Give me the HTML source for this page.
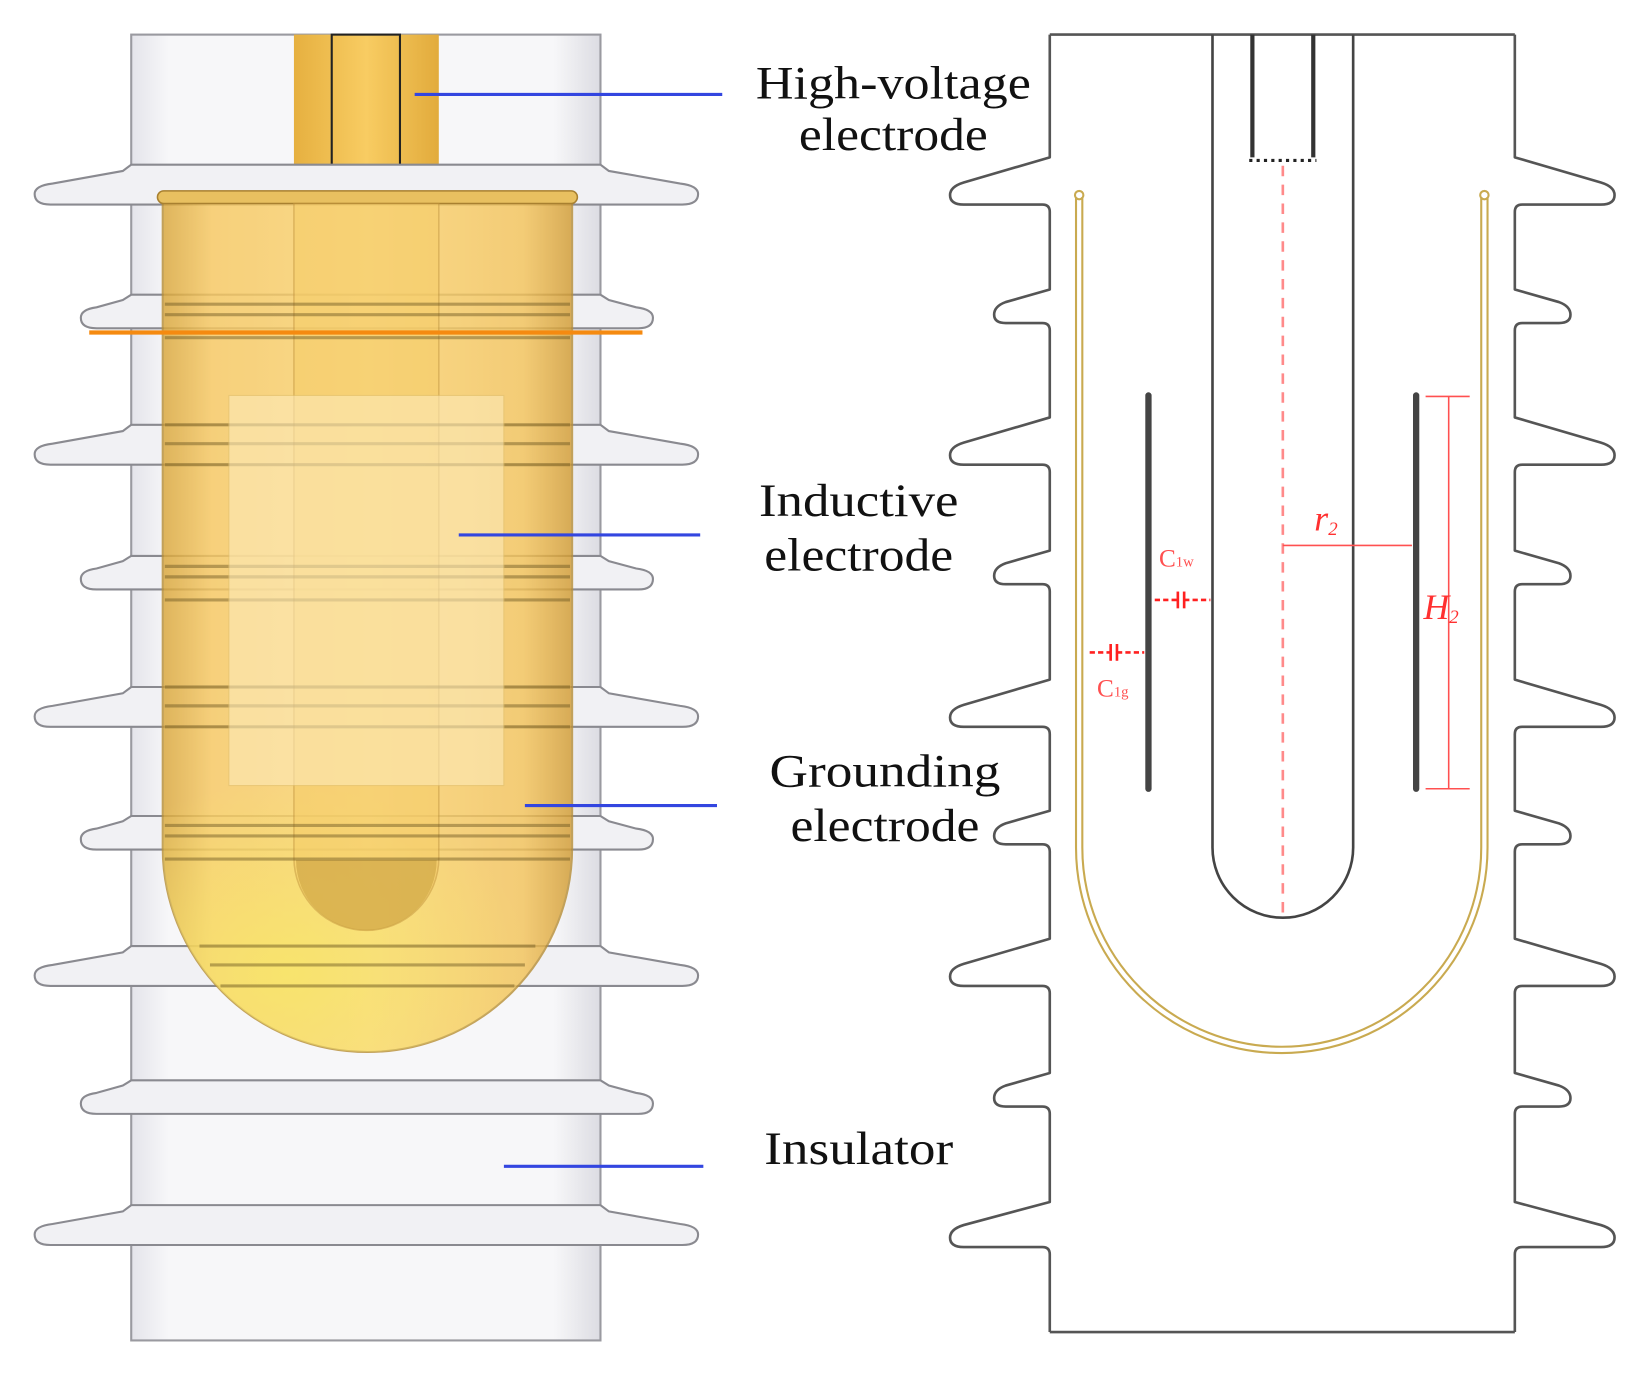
<!DOCTYPE html>
<html><head><meta charset="utf-8"><style>
html,body{margin:0;padding:0;background:#fff;}
svg{display:block;}
text{font-family:"Liberation Serif",serif;}
</style></head><body>
<svg width="1645" height="1374" viewBox="0 0 1567 1310" preserveAspectRatio="none" xmlns="http://www.w3.org/2000/svg">
<defs>
<linearGradient id="core" x1="0" x2="1" y1="0" y2="0">
<stop offset="0" stop-color="#e4e4ea"/><stop offset="0.08" stop-color="#f7f7f9"/><stop offset="0.9" stop-color="#f7f7f9"/><stop offset="1" stop-color="#dcdce2"/></linearGradient>
<linearGradient id="cup" x1="0" x2="1" y1="0" y2="0">
<stop offset="0" stop-color="#d9a63a"/><stop offset="0.12" stop-color="#f7c860"/><stop offset="0.5" stop-color="#fbd470"/><stop offset="0.88" stop-color="#f3c35a"/><stop offset="1" stop-color="#d29c34"/></linearGradient>
<radialGradient id="cupb" cx="0.3" cy="0.75" r="0.6">
<stop offset="0" stop-color="#f8e868"/><stop offset="1" stop-color="#f8e868" stop-opacity="0"/></radialGradient>
<linearGradient id="rod" x1="0" x2="1"><stop offset="0" stop-color="#e6b040"/><stop offset="0.5" stop-color="#f8cc62"/><stop offset="1" stop-color="#e2ab3c"/></linearGradient>
<path id="bshed" d="M125,-28 L572,-28 L580,-22 L648,-10 Q665,-8 665,0 Q665,10 650,10 L48,10 Q33,10 33,0 Q33,-8 50,-10 L117,-22 Z" fill="#f1f1f4" stroke="#8a8a90" stroke-width="2"/>
<path id="sshed" d="M125,-22 L572,-22 L580,-17 L606,-10 Q622,-8 622,0 Q622,10 608,10 L92,10 Q77,10 77,0 Q77,-8 92,-10 L117,-17 Z" fill="#f1f1f4" stroke="#8a8a90" stroke-width="2"/>
</defs>

<rect x="125" y="33" width="447" height="1245" fill="url(#core)" stroke="#9a9aa0" stroke-width="2"/>
<line x1="125" y1="160" x2="572" y2="160" stroke="#aaa" stroke-width="2"/>
<rect x="280" y="33" width="138" height="155" fill="url(#rod)"/>
<rect x="316" y="33" width="65" height="126" fill="none" stroke="#222" stroke-width="2"/>
<line x1="316" y1="159" x2="381" y2="159" stroke="#111" stroke-width="3" stroke-dasharray="4 4"/>
<use href="#bshed" y="185"/>
<use href="#sshed" y="303"/>
<use href="#bshed" y="433"/>
<use href="#sshed" y="552"/>
<use href="#bshed" y="683"/>
<use href="#sshed" y="800"/>
<use href="#bshed" y="930"/>
<use href="#sshed" y="1052"/>
<use href="#bshed" y="1177"/>
<path d="M155,188 L545,188 L545,808 A195,195 0 0 1 155,808 Z" fill="url(#cup)" opacity="0.82" stroke="#b8903a" stroke-width="2"/>
<path d="M155,700 L545,700 L545,808 A195,195 0 0 1 155,808 Z" fill="url(#cupb)" opacity="0.8"/>
<rect x="150" y="182" width="400" height="12" rx="6" fill="#e8c060" stroke="#a88030" stroke-width="1.5"/>
<path d="M280,194 L418,194 L418,818 A69,69 0 0 1 280,818 Z" fill="#f6cc66" opacity="0.55" stroke="#c89a40" stroke-width="1.5"/>
<path d="M282,820 A67,67 0 0 0 416,820 Z" fill="#c9a040" opacity="0.6"/>
<g stroke="#6a5520" stroke-width="3" opacity="0.45">
<line x1="157" y1="290" x2="543" y2="290"/><line x1="157" y1="300" x2="543" y2="300"/><line x1="157" y1="322" x2="543" y2="322"/>
<line x1="157" y1="405" x2="543" y2="405"/><line x1="157" y1="423" x2="543" y2="423"/><line x1="157" y1="443" x2="543" y2="443"/>
<line x1="157" y1="540" x2="543" y2="540"/><line x1="157" y1="550" x2="543" y2="550"/><line x1="157" y1="572" x2="543" y2="572"/>
<line x1="157" y1="655" x2="543" y2="655"/><line x1="157" y1="673" x2="543" y2="673"/><line x1="157" y1="693" x2="543" y2="693"/>
<line x1="157" y1="787" x2="543" y2="787"/><line x1="157" y1="797" x2="543" y2="797"/><line x1="157" y1="819" x2="543" y2="819"/>
<line x1="190" y1="902" x2="510" y2="902"/><line x1="200" y1="920" x2="500" y2="920"/><line x1="210" y1="940" x2="490" y2="940"/>
</g>
<rect x="218" y="377" width="262" height="372" fill="#fdeab8" opacity="0.6" stroke="#e0c070" stroke-width="1"/>
<line x1="85" y1="317" x2="612" y2="317" stroke="#f58a10" stroke-width="4"/>
<g stroke="#3346e0" stroke-width="3">
<line x1="395" y1="90" x2="688" y2="90"/>
<line x1="437" y1="510" x2="667" y2="510"/>
<line x1="500" y1="768" x2="683" y2="768"/>
<line x1="480" y1="1112" x2="670" y2="1112"/>
</g>
<g font-size="44" fill="#111" text-anchor="middle">
<text x="851" y="94" textLength="262" lengthAdjust="spacingAndGlyphs">High-voltage</text>
<text x="851" y="143" textLength="180" lengthAdjust="spacingAndGlyphs">electrode</text>
<text x="818" y="492" textLength="190" lengthAdjust="spacingAndGlyphs">Inductive</text>
<text x="818" y="544" textLength="180" lengthAdjust="spacingAndGlyphs">electrode</text>
<text x="843" y="750" textLength="220" lengthAdjust="spacingAndGlyphs">Grounding</text>
<text x="843" y="802" textLength="180" lengthAdjust="spacingAndGlyphs">electrode</text>
<text x="818" y="1110" textLength="180" lengthAdjust="spacingAndGlyphs">Insulator</text>
</g>

<g fill="none" stroke="#555" stroke-width="2.5" stroke-linejoin="round">
<path id="prof" d="M1000,33 L1000,150 L918,174 Q905,178 905,186 Q905,195 918,195 L993,195 Q1000,195 1000,202 L1000,276 L958,288 Q947,292 947,300 Q947,308 958,308 L993,308 Q1000,308 1000,315 L1000,398 L918,422 Q905,426 905,434 Q905,443 918,443 L993,443 Q1000,443 1000,450 L1000,525 L958,537 Q947,541 947,549 Q947,557 958,557 L993,557 Q1000,557 1000,564 L1000,648 L918,672 Q905,676 905,684 Q905,693 918,693 L993,693 Q1000,693 1000,700 L1000,773 L958,785 Q947,789 947,797 Q947,805 958,805 L993,805 Q1000,805 1000,812 L1000,895 L918,919 Q905,923 905,931 Q905,940 918,940 L993,940 Q1000,940 1000,947 L1000,1023 L958,1035 Q947,1039 947,1047 Q947,1055 958,1055 L993,1055 Q1000,1055 1000,1062 L1000,1146 L918,1168 Q905,1172 905,1180 Q905,1189 918,1189 L993,1189 Q1000,1189 1000,1196 L1000,1270"/>
<use href="#prof" transform="translate(2443,0) scale(-1,1)"/>
<line x1="1000" y1="33" x2="1443" y2="33"/>
<line x1="1000" y1="1270" x2="1443" y2="1270"/>
<path d="M1155,33 L1155,808 A67,67 0 0 0 1289,808 L1289,33" stroke="#444" stroke-width="2.5"/>
</g>
<g stroke="#333" stroke-width="4" fill="none">
<line x1="1193" y1="33" x2="1193" y2="150"/><line x1="1251" y1="33" x2="1251" y2="150"/>
</g>
<line x1="1190" y1="153" x2="1254" y2="153" stroke="#222" stroke-width="3" stroke-dasharray="3 4"/>
<g fill="none" stroke="#c9aa50" stroke-width="2">
<path d="M1025,188 L1025,808 A196,196 0 0 0 1417,808 L1417,188"/>
<path d="M1031,188 L1031,808 A190,190 0 0 0 1411,808 L1411,188"/>
<circle cx="1028" cy="186" r="4"/><circle cx="1414" cy="186" r="4"/>
</g>
<line x1="1222" y1="158" x2="1222" y2="875" stroke="#ff8a8a" stroke-width="2.5" stroke-dasharray="10 8"/>
<line x1="1094" y1="377" x2="1094" y2="752" stroke="#444" stroke-width="6" stroke-linecap="round"/>
<line x1="1349" y1="377" x2="1349" y2="752" stroke="#444" stroke-width="6" stroke-linecap="round"/>
<g stroke="#ff5050" stroke-width="1.5" fill="none">
<line x1="1380" y1="378" x2="1380" y2="752"/>
<line x1="1358" y1="378" x2="1400" y2="378"/><line x1="1358" y1="752" x2="1400" y2="752"/>
<line x1="1222" y1="520" x2="1345" y2="520"/>
</g>
<g stroke="#ff2020" stroke-width="2.5" fill="none">
<line x1="1100" y1="572" x2="1122" y2="572" stroke-dasharray="5 3"/>
<line x1="1122" y1="564" x2="1122" y2="580"/><line x1="1128" y1="564" x2="1128" y2="580"/>
<line x1="1128" y1="572" x2="1153" y2="572" stroke-dasharray="5 3"/>
<line x1="1038" y1="622" x2="1058" y2="622" stroke-dasharray="5 3"/>
<line x1="1058" y1="614" x2="1058" y2="630"/><line x1="1064" y1="614" x2="1064" y2="630"/>
<line x1="1064" y1="622" x2="1090" y2="622" stroke-dasharray="5 3"/>
</g>
<g fill="#ff3030" font-style="italic">
<text x="1252" y="506" font-size="34">r<tspan font-size="18" dy="4">2</tspan></text>
<text x="1356" y="590" font-size="34">H<tspan font-size="18" dy="4">2</tspan></text>
</g>
<g fill="#ff5050">
<text x="1104" y="540" font-size="24">C<tspan font-size="14">1w</tspan></text>
<text x="1045" y="664" font-size="24">C<tspan font-size="14">1g</tspan></text>
</g>
</svg>
</body></html>
